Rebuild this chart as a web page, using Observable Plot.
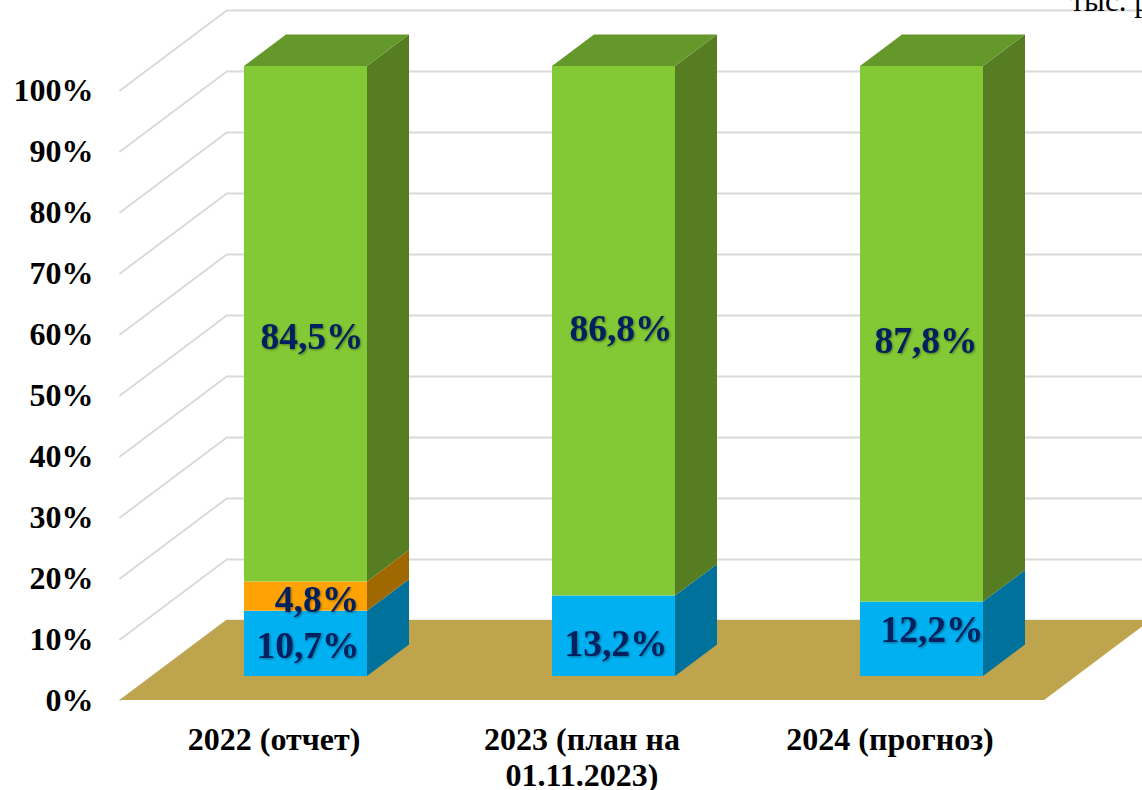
<!DOCTYPE html>
<html><head><meta charset="utf-8">
<style>html,body{margin:0;padding:0;background:#fff}svg{display:block;overflow:hidden}</style>
<script src="https://cdn.jsdelivr.net/npm/d3@7"></script>
<script src="https://cdn.jsdelivr.net/npm/@observablehq/plot@0.6"></script>
</head><body><script>
const categories = ["2022 (отчет)", "2023 (план на\n01.11.2023)", "2024 (прогноз)"];
const blueValues = [10.7, 13.2, 12.2];
const orangeValues = [4.8, 0, 0];
const greenValues = [84.5, 86.8, 87.8];
const tickValues = [0, 10, 20, 30, 40, 50, 60, 70, 80, 90, 100];
const unitText = "тыс. руб.";

// chart geometry, in px, turned into scale units below
const W = 1142, H = 790, SERIF = "Liberation Serif";
const pxCat = 308, pxPct = 6.1, depthX = 42, depthY = 31.5, halfBar = 61.5;
const X0 = 305.5, Y0 = 676;
const dx = d => d * depthX / pxCat;
const dy = d => d * depthY / pxPct;
const half = halfBar / pxCat;
const dFront = -0.76, dBack = 1.78;
const wallLeft = (151.5 - X0) / pxCat;
const floorRight = (1076 - X0) / pxCat;

const series = [
  {values: blueValues, front: "#00B0F0", side: "#00719B", top: "#00719B"},
  {values: orangeValues, front: "#FFA305", side: "#A06800", top: "#A06800"},
  {values: greenValues, front: "#83C935", side: "#567D21", top: "#65982A"}
];

// stacks
const segments = [];
categories.forEach((c, i) => {
  let base = 0;
  series.forEach((s, k) => {
    const v = s.values[i];
    if (v > 0) segments.push({i, k, low: base, high: base + v, v, s});
    base += v;
  });
});

const gridPoints = tickValues.flatMap(t => [
  {t, x: wallLeft + dx(dFront), y: t + dy(dFront)},
  {t, x: wallLeft + dx(dBack), y: t + dy(dBack)},
  {t, x: (W + 20 - X0) / pxCat, y: t + dy(dBack)}
]);

const floorPoints = [
  {y: dy(dFront), x1: wallLeft + dx(dFront), x2: floorRight + dx(dFront)},
  {y: dy(dBack), x1: wallLeft + dx(dBack), x2: floorRight + dx(dBack)}
];

const sideFaces = segments.flatMap((g, n) => [0, 1].map(d => ({
  n, fill: g.s.side, x: g.i + half + dx(d), y1: g.low + dy(d), y2: g.high + dy(d)
})));
const topFaces = segments.filter(g => g.high > 99.9).flatMap((g, n) => [0, 1].map(d => ({
  n, fill: g.s.top, y: g.high + dy(d), x1: g.i - half + dx(d), x2: g.i + half + dx(d)
})));

const fmt = v => v.toFixed(1).replace(".", ",") + "%";
// pixel nudges of each value label from the middle of its segment: i, k, dx, dy
const labelNudge = {"0-2": [6, 13], "1-2": [7, -2], "2-2": [4, 7],
  "0-1": [11, 3], "0-0": [2, 2], "1-0": [2, 8], "2-0": [10, -9]};

const labelMarks = segments.map(g => {
  const [ndx, ndy] = labelNudge[g.i + "-" + g.k];
  return Plot.text([g], {
    x: d => d.i, y: d => (d.low + d.high) / 2, text: d => fmt(d.v),
    dx: ndx, dy: ndy, fill: "#002060", fontSize: 37.5, fontWeight: "bold",
    fontFamily: SERIF, imageFilter: "drop-shadow(1.5px 1.5px 1px rgba(0,0,0,.4))"
  });
});

const chart = Plot.plot({
  width: W, height: H,
  marginLeft: 100, marginRight: 0, marginTop: 0, marginBottom: 67,
  x: {type: "linear", domain: [0, 2], range: [X0, X0 + 2 * pxCat], axis: null},
  y: {type: "linear", domain: [0, 100], range: [Y0, Y0 - 100 * pxPct], axis: null},
  marks: [
    Plot.line(gridPoints, {x: "x", y: "y", z: "t", stroke: "#D9D9D9", strokeWidth: 2, curve: "linear"}),
    Plot.areaX(floorPoints, {y: "y", x1: "x1", x2: "x2", fill: "#BFA44E"}),
    Plot.areaY(sideFaces, {x: "x", y1: "y1", y2: "y2", z: "n", fill: d => d.fill}),
    Plot.areaX(topFaces, {y: "y", x1: "x1", x2: "x2", z: "n", fill: d => d.fill}),
    Plot.rect(segments, {x1: d => d.i - half, x2: d => d.i + half, y1: "low", y2: "high", fill: d => d.s.front}),
    ...labelMarks,
    Plot.axisY({ticks: tickValues, tickFormat: d => d + "%", tickSize: 0, tickPadding: 7, dy: 24.5,
      label: null, fontSize: 32, fontWeight: "bold", fontFamily: SERIF, fill: "#000"}),
    Plot.axisX({ticks: [0, 1, 2], tickFormat: i => categories[i], tickSize: 0, tickPadding: 1, dx: -32,
      label: null, fontSize: 32, fontWeight: "bold", fontFamily: SERIF, fill: "#000", lineHeight: 1.125}),
    Plot.text([unitText], {text: d => d, frameAnchor: "top-left", dx: 970, dy: 1, lineAnchor: "middle",
      fontSize: 31, fontFamily: SERIF, fill: "#000", textAnchor: "start"})
  ]
});
document.body.appendChild(chart);
</script></body></html>
